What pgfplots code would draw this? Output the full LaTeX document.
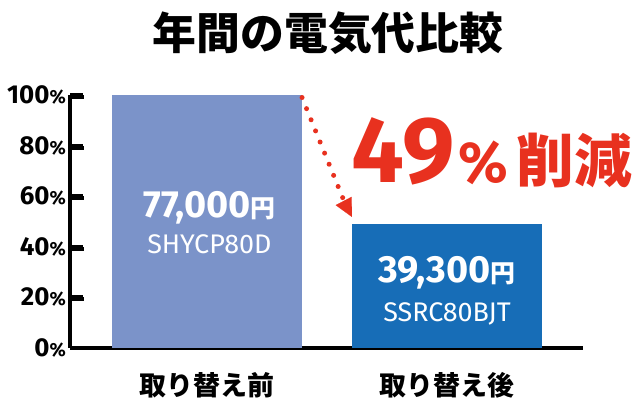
\documentclass[border=0pt]{standalone}
\usepackage{fontspec}
\usepackage{pgfplots}
\pgfplotsset{compat=1.18}
\usetikzlibrary{arrows.meta}
\setmainfont{Fira Sans}
\newfontfamily\jp{Noto Sans CJK JP}
\definecolor{barA}{HTML}{7B93C9}
\definecolor{barB}{HTML}{176DB7}
\definecolor{redT}{HTML}{E8311F}
\newcommand\fs[1]{\fontsize{#1}{#1}\selectfont}
\begin{document}
\begin{tikzpicture}
\path[use as bounding box] (0bp,0bp) rectangle (634bp,406bp);
\node[font=\jp\bfseries\fs{44}] at (328bp,373bp) {年間の電気代比較};
\begin{axis}[
  at={(70bp,58bp)}, anchor=south west, scale only axis,
  width=513bp, height=253bp,
  xmin=-0.5708, xmax=1.5667, ymin=0, ymax=100,
  axis x line=bottom, axis y line=left,
  axis line style={line width=4bp, -},
  ytick={0,20,40,60,80,100}, xtick=\empty,
  tick style={draw=black, line width=4bp},
  major tick length=13bp, tick align=inside,
  yticklabel={\bfseries\fs{26}\pgfmathprintnumber[assume math mode=true]{\tick}{\fs{19}\%}},
  yticklabel style={anchor=east, inner sep=0pt, xshift=-4bp},
  clip=false,
]
\addplot[ybar, bar width=190bp, fill=barA, draw=none] coordinates {(0,100)};
\addplot[ybar, bar width=190bp, fill=barB, draw=none] coordinates {(1,49)};
\draw[redT, line width=5bp, line cap=round, dash pattern=on 0pt off 12bp]
  (axis cs:0.396,99) -- (axis cs:0.58,56);
\draw[redT, line width=0.1bp, -{Triangle[length=18bp,width=18bp]}]
  (axis cs:0.57,58) -- (axis cs:0.604,51.8);
\node[anchor=base west, inner sep=0pt, text=redT, font=\bfseries] at (axis cs:0.6,65.5)
  {\fs{94}49\hspace{4bp}{\fs{58}\%\hspace{8bp}\jp 削減}};
\node[anchor=base, inner sep=0pt, text=white, font=\bfseries\fs{38}] at (axis cs:0.01,51.7) {77,000{\jp\fs{25}円}};
\node[anchor=base, inner sep=0pt, text=white, font=\fs{27}] at (axis cs:0.01,37.5) {SHYCP80D};
\node[anchor=base, inner sep=0pt, text=white, font=\bfseries\fs{38}] at (axis cs:1,25.7) {39,300{\jp\fs{25}円}};
\node[anchor=base, inner sep=0pt, text=white, font=\fs{27}] at (axis cs:1,10.3) {SSRC80BJT};
\node[anchor=base, inner sep=0pt, font=\jp\bfseries\fs{27}] at (axis cs:0,-18.6) {取り替え前};
\node[anchor=base, inner sep=0pt, font=\jp\bfseries\fs{27}] at (axis cs:1,-18.6) {取り替え後};
\end{axis}
\fill[black] (68bp,307bp) rectangle (84bp,311bp);
\fill[black] (68bp,256.4bp) rectangle (84bp,260.4bp);
\fill[black] (68bp,205.8bp) rectangle (84bp,209.8bp);
\fill[black] (68bp,155.2bp) rectangle (84bp,159.2bp);
\fill[black] (68bp,104.6bp) rectangle (84bp,108.6bp);
\end{tikzpicture}
\end{document}
